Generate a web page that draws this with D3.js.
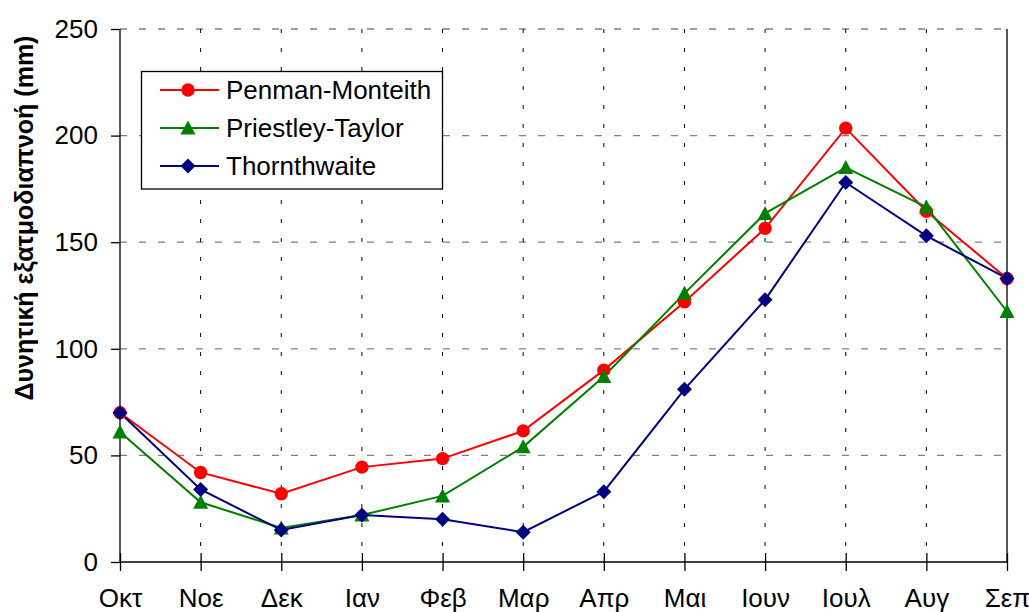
<!DOCTYPE html>
<html><head><meta charset="utf-8">
<script src="https://cdn.jsdelivr.net/npm/d3@7"></script>
<style>body{margin:0;background:#fff}svg{display:block}text{font-family:"Liberation Sans",Arial,sans-serif}</style>
</head><body><svg id="c" width="1029" height="612"></svg>
<script>
const categories = ["Οκτ","Νοε","Δεκ","Ιαν","Φεβ","Μαρ","Απρ","Μαι","Ιουν","Ιουλ","Αυγ","Σεπ"];
const penmanMonteith = [70, 42, 32, 44.5, 48.5, 61.5, 90, 122, 156.5, 203.5, 164.5, 133];
const priestleyTaylor = [61, 28, 16, 22, 31, 54, 87, 126, 163.5, 185, 166.5, 117.5];
const thornthwaite = [70, 34, 15, 22, 20, 14, 33, 81, 123, 178, 153, 133];
const yTicks = [0, 50, 100, 150, 200, 250];
const seriesNames = ["Penman-Monteith","Priestley-Taylor","Thornthwaite"];
const yTitle = "Δυνητική εξατμοδιαπνοή (mm)";

const series = [
  {name: seriesNames[0], values: penmanMonteith, color: "#ff0000", shape: "circle"},
  {name: seriesNames[1], values: priestleyTaylor, color: "#008000", shape: "triangle"},
  {name: seriesNames[2], values: thornthwaite, color: "#000080", shape: "diamond"}
];

const L = 120, R = 1007, T = 29, B = 562;
const svg = d3.select("#c");
const x = d3.scalePoint().domain(categories).range([L, R]).padding(0);
const y = d3.scaleLinear().domain([0, 250]).range([B, T]);

// horizontal gridlines
svg.append("g").selectAll("line").data(yTicks.filter(d => d > 0)).join("line")
  .attr("x1", L).attr("x2", R).attr("y1", d => y(d)).attr("y2", d => y(d))
  .attr("stroke", "#808080").attr("stroke-width", 1.3).attr("stroke-dasharray", "7,12");
// vertical gridlines
svg.append("g").selectAll("line").data(categories.slice(1, -1)).join("line")
  .attr("x1", d => x(d)).attr("x2", d => x(d)).attr("y1", T).attr("y2", B)
  .attr("stroke", "#000").attr("stroke-width", 1).attr("stroke-dasharray", "4,15");
// right border
svg.append("line").attr("x1", R).attr("x2", R).attr("y1", T).attr("y2", B).attr("stroke", "#000").attr("stroke-width", 1.3);

// y axis
const yAxis = d3.axisLeft(y).tickValues(yTicks).tickSize(9).tickPadding(13);
const gy = svg.append("g").attr("transform", `translate(${L},0)`).call(yAxis);
gy.select(".domain").attr("stroke", "#000").attr("stroke-width", 1.3).attr("d", `M0,${B}V${T}`);
gy.selectAll(".tick line").attr("stroke", "#000").attr("stroke-width", 1.3);
gy.selectAll("text").attr("font-size", 26).attr("fill", "#000").attr("font-family", "Liberation Sans, Arial, sans-serif");

// x axis
const xAxis = d3.axisBottom(x).tickSize(9).tickPadding(18);
const gx = svg.append("g").attr("transform", `translate(0,${B})`).call(xAxis);
gx.select(".domain").attr("stroke", "#000").attr("stroke-width", 1.3).attr("d", `M${L},0H${R}`);
gx.selectAll(".tick line").attr("stroke", "#000").attr("stroke-width", 1.3).attr("y1", -9).attr("y2", 9);
gx.selectAll("text").attr("font-size", 26).attr("fill", "#000").attr("font-family", "Liberation Sans, Arial, sans-serif");

// y title
svg.append("text").attr("transform", "translate(33,218) rotate(-90)")
  .attr("text-anchor", "middle").attr("font-size", 25).attr("font-weight", "bold").text(yTitle);

const shapePath = {
  circle: d3.symbol().type(d3.symbolCircle).size(140)(),
  triangle: "M0,-7.5L7.5,6.5L-7.5,6.5Z",
  diamond: "M0,-7.5L7.5,0L0,7.5L-7.5,0Z"
};

const line = d3.line().x((d, i) => x(categories[i])).y(d => y(d));
series.forEach(s => {
  svg.append("path").attr("d", line(s.values)).attr("fill", "none").attr("stroke", s.color).attr("stroke-width", 2);
});
series.forEach(s => {
  svg.append("g").selectAll("path").data(s.values).join("path")
    .attr("transform", (d, i) => `translate(${x(categories[i])},${y(d)})`)
    .attr("d", shapePath[s.shape])
    .attr("fill", s.color);
});

// legend
const lg = svg.append("g");
lg.append("rect").attr("x", 141.5).attr("y", 71.5).attr("width", 301).attr("height", 117.5)
  .attr("fill", "#fff").attr("stroke", "#000").attr("stroke-width", 1.3);
series.forEach((s, i) => {
  const cy = 90 + i * 38;
  lg.append("line").attr("x1", 160).attr("x2", 219).attr("y1", cy).attr("y2", cy).attr("stroke", s.color).attr("stroke-width", 2);
  lg.append("path").attr("transform", `translate(188,${cy})`).attr("d", shapePath[s.shape]).attr("fill", s.color);
  lg.append("text").attr("x", 226).attr("y", cy + 9).attr("font-size", 26).text(s.name);
});
</script></body></html>
